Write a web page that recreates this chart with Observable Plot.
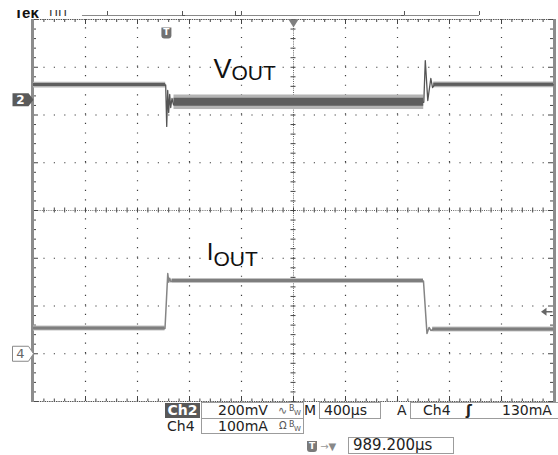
<!DOCTYPE html>
<html><head><meta charset="utf-8">
<script src="https://cdn.jsdelivr.net/npm/d3@7"></script>
<script src="https://cdn.jsdelivr.net/npm/@observablehq/plot@0.6"></script>
<style>
html,body{margin:0;padding:0;background:#fff;}
#wrap{position:relative;width:558px;height:455px;overflow:hidden;font-family:"DejaVu Sans",sans-serif;color:#222;}
#wrap svg{position:absolute;left:0;top:0;}
.a{position:absolute;white-space:nowrap;font-size:14px;}
.box{position:absolute;border:1px solid #9c9c9c;box-sizing:border-box;}
</style></head><body><div id="wrap"></div>
<script>
// ---------------- scope settings ----------------
const timePerDiv = 400;          // µs / div  ("M 400µs")
const triggerDelay = 989.2;      // µs from trigger to screen centre
const ch2Scale = 200;            // mV / div
const ch4Scale = 100;            // mA / div
const ch2Ref = 2.32;             // Ch2 ground marker (div from centre)
const ch4Ref = -3.0;             // Ch4 ground marker (div from centre)
const triggerMarkMa = 88;        // trigger-level arrow on the right (mA)

// ---------------- VOUT (Ch2, mV, AC coupled) ----------------
const voutTime = [-1010.8, 6, 14, 21.5, 29, 37, 44.6, 54.6, 66, 81.5, 1991.5, 2003, 2022, 2045.4, 2058.5, 2074, 2989.2];
const voutMv   = [61.6, 61.6, -112, 38.6, -53.5, 21.9, -32.6, 5.1, -20, -9.5, -10.5, 164, -3.3, 88.9, 51.2, 62.5, 62.5];
// noise-band envelopes of the flat parts
const voutBandStart  = [-1010.8, 70, 2068];
const voutBandEnd    = [6, 1991, 2989.2];
const voutBandLevel  = [61.6, -10.5, 62.5];
const voutBandCore   = [6, 17, 6];
const voutBandSpread = [12, 30, 12];

// ---------------- IOUT (Ch4, mA) ----------------
const ioutTime = [-1010.8, 0.8, 22, 30, 37, 46, 60, 1989, 2016, 2032, 2047, 2066, 2989.2];
const ioutMa   = [52.9, 52.9, 168, 150, 158, 151, 152.3, 152.3, 42.4, 55, 48.7, 50.8, 50.8];
const ioutBandStart  = [-1010.8, 55, 2060];
const ioutBandEnd    = [0.8, 1989, 2989.2];
const ioutBandLevel  = [52.9, 152.3, 50.8];
const ioutBandCore   = [3, 3, 3];
const ioutBandSpread = [5.2, 5.2, 5.2];

// ---------------- status-bar text ----------------
const ch2Name = "Ch2", ch4Name = "Ch4";
const ch2Setting = "200mV", ch4Setting = "100mA";
const timebaseText = "400µs";
const trigSource = "Ch4", trigLevelText = "130mA";
const delayText = "989.200µs";

// ---------------- derived layout helpers ----------------
const tLeft = triggerDelay - 5 * timePerDiv;
const tRight = triggerDelay + 5 * timePerDiv;
const tCenter = triggerDelay;
const usPx = (10 * timePerDiv) / 520;   // µs per pixel
const dvPx = 8 / 382;                    // div per pixel
const vY = v => ch2Ref + v / ch2Scale;
const iY = v => ch4Ref + v / ch4Scale;

const voutPts = voutTime.map((t, i) => ({t, y: vY(voutMv[i])}));
const ioutPts = ioutTime.map((t, i) => ({t, y: iY(ioutMa[i])}));
function bands(start, end, level, core, spread, conv) {
  const out = [];
  start.forEach((s, i) => {
    for (const t of [s, end[i]]) out.push({id: i, t,
      cLo: conv(level[i] - core[i]), cHi: conv(level[i] + core[i]),
      fLo: conv(level[i] - spread[i]), fHi: conv(level[i] + spread[i])});
  });
  return out;
}
const vBand = bands(voutBandStart, voutBandEnd, voutBandLevel, voutBandCore, voutBandSpread, vY);
const iBand = bands(ioutBandStart, ioutBandEnd, ioutBandLevel, ioutBandCore, ioutBandSpread, iY);

const minorX = d3.range(0, 51).map(j => tLeft + j * timePerDiv / 5);
const minorY = d3.range(0, 41).map(i => -4 + i * 0.2);
const majorX = d3.range(1, 10).filter(k => k !== 5).map(k => tLeft + k * timePerDiv);
const majorY = [-3, -2, -1, 1, 2, 3];
const isMajX = (t, j) => j % 5 === 0;

// header (record view) marks, in µs
const headerLine = [{x1: -634, x2: 2420}];
const headerTicks = [-441.5, 135.4, 543, 589, 1843, 2420];
const headerFeet = [{x1: 135.4, x2: 135.4 + 3 * usPx}, {x1: 543, x2: 589}, {x1: 1843 - 3 * usPx, x2: 1843}];
const hY = 4 + 4 * dvPx;

// label annotations
const labels = [
  {text: "V", t: 373.8, y: 2.785, size: 27},
  {text: "OUT", t: 512, y: 2.723, size: 21},
  {text: "I", t: 322, y: -1.047, size: 24},
  {text: "OUT", t: 373.8, y: -1.152, size: 21}
];

// custom symbols
const flag = h => ({draw(c) { c.moveTo(-21, -h); c.lineTo(-5, -h); c.lineTo(0, 0); c.lineTo(-5, h); c.lineTo(-21, h); c.closePath(); }});
const shield = {draw(c) { c.moveTo(-5, -5.5); c.lineTo(5, -5.5); c.lineTo(5, 2.5); c.quadraticCurveTo(5, 5.5, 2, 5.5); c.lineTo(-2, 5.5); c.quadraticCurveTo(-5, 5.5, -5, 2.5); c.closePath(); }};
const downTri = {draw(c) { c.moveTo(-5, 0); c.lineTo(5, 0); c.lineTo(0, 8); c.closePath(); }};
const trigArrow = {draw(c) { c.moveTo(-11.5, 0); c.lineTo(-6, -4); c.lineTo(-6, -0.8); c.lineTo(0, -0.8); c.lineTo(0, 0.8); c.lineTo(-6, 0.8); c.lineTo(-6, 4); c.closePath(); }};

const chart = Plot.plot({
  width: 558, height: 404,
  marginTop: 19, marginBottom: 3, marginLeft: 33, marginRight: 5,
  x: {domain: [tLeft, tRight], axis: null},
  y: {domain: [-4, 4], axis: null},
  style: {background: "transparent", overflow: "visible"},
  marks: [
    // graticule
    Plot.ruleY(majorY, {x1: tLeft, x2: tRight, stroke: "#3c3c3c", strokeWidth: 1.2, strokeDasharray: "1.2,9.2"}),
    Plot.ruleX(majorX, {y1: -4, y2: 4, stroke: "#3c3c3c", strokeWidth: 1.2, strokeDasharray: "1.2,8.35"}),
    Plot.ruleX([tCenter], {y1: -4, y2: 4, stroke: "#666", strokeDasharray: "1,1.2"}),
    Plot.ruleY([0], {x1: tLeft, x2: tRight, stroke: "#666", strokeDasharray: "1,1.2"}),
    Plot.ruleY(minorY, {x1: tCenter - 2.5 * usPx, x2: tCenter + 2.5 * usPx, stroke: "#444"}),
    Plot.ruleX(minorX, {y1: -2.5 * dvPx, y2: 2.5 * dvPx, stroke: "#444"}),
    Plot.ruleY(minorY, {x1: tLeft, x2: (d, i) => tLeft + (i % 5 === 0 ? 5 : 3) * usPx, stroke: "#444"}),
    Plot.ruleY(minorY, {x1: (d, i) => tRight - (i % 5 === 0 ? 5 : 3) * usPx, x2: tRight, stroke: "#444"}),
    Plot.ruleX(minorX, {y1: (d, i) => 4 - (isMajX(d, i) ? 5 : 3) * dvPx, y2: 4, stroke: "#444"}),
    Plot.ruleX(minorX, {y1: -4, y2: (d, i) => -4 + (isMajX(d, i) ? 5 : 2.5) * dvPx, stroke: "#444"}),
    Plot.ruleY([-4, 4], {x1: tLeft, x2: tRight, stroke: "#555", strokeDasharray: "1.5,0.8"}),
    Plot.ruleX([tLeft], {y1: -4.02, y2: 4, stroke: "#8c8c8c", strokeWidth: 3, dx: -1}),
    Plot.ruleX([tRight], {y1: -4.02, y2: 4, stroke: "#8c8c8c", strokeWidth: 3, dx: 1}),
    // header record-view marks
    Plot.ruleY(headerLine, {y: hY, x1: "x1", x2: "x2", stroke: "#888"}),
    Plot.ruleX(headerTicks, {y1: hY, y2: hY + 4 * dvPx, stroke: "#555"}),
    Plot.ruleY(headerFeet, {y: hY, x1: "x1", x2: "x2", stroke: "#555"}),
    // IOUT
    Plot.areaY(iBand, {x: "t", y1: "fLo", y2: "fHi", z: "id", fill: "#c2c2c2"}),
    Plot.line(ioutPts, {x: "t", y: "y", stroke: "#858585", strokeWidth: 1.5}),
    Plot.areaY(iBand, {x: "t", y1: "cLo", y2: "cHi", z: "id", fill: "#7e7e7e"}),
    // VOUT
    Plot.areaY(vBand, {x: "t", y1: "fLo", y2: "fHi", z: "id", fill: "#b4b4b4"}),
    Plot.line(voutPts, {x: "t", y: "y", stroke: "#555", strokeWidth: 1.3}),
    Plot.areaY(vBand, {x: "t", y1: "cLo", y2: "cHi", z: "id", fill: "#5e5e5e"}),
    // labels
    Plot.text(labels, {x: "t", y: "y", text: "text", fontSize: d => d.size, textAnchor: "start", lineAnchor: "bottom", fontFamily: "Liberation Sans", fill: "#111"}),
    // channel ground markers
    Plot.dot([{t: tLeft, y: ch2Ref}], {x: "t", y: "y", symbol: flag(6.5), fill: "#5a5a5a", stroke: null}),
    Plot.text([{t: tLeft, y: ch2Ref}], {x: "t", y: "y", text: () => "2", dx: -13, fill: "#fff", fontWeight: "bold", fontSize: 12, fontFamily: "DejaVu Sans"}),
    Plot.dot([{t: tLeft, y: ch4Ref}], {x: "t", y: "y", symbol: flag(7.5), fill: "#fff", stroke: "#888", strokeWidth: 1}),
    Plot.text([{t: tLeft, y: ch4Ref}], {x: "t", y: "y", text: () => "4", dx: -13, fill: "#666", fontSize: 13, fontFamily: "DejaVu Sans"}),
    // trigger position, centre marker, trigger level
    Plot.dot([0], {x: d => d, y: 4, dx: 1.5, dy: 13.5, symbol: shield, fill: "#717171", stroke: null}),
    Plot.text([0], {x: d => d, y: 4, dx: 1.5, dy: 13, text: () => "T", fill: "#fff", fontWeight: "bold", fontSize: 9, fontFamily: "DejaVu Sans"}),
    Plot.dot([tCenter], {x: d => d, y: 4, symbol: downTri, fill: "#808080", stroke: null}),
    Plot.dot([iY(triggerMarkMa)], {x: tRight, y: d => d, dx: -1, symbol: trigArrow, fill: "#666", stroke: null})
  ]
});

const wrap = document.getElementById("wrap");
wrap.appendChild(chart);

// header "Tek" fragment (top of it is cut off in the screen grab)
const hdr = document.createElement("div");
hdr.style.cssText = "position:absolute;left:14px;top:10px;width:72px;height:8px;overflow:hidden;";
hdr.innerHTML = '<span style="position:absolute;left:0;top:-5.5px;font:bold 15px/15px \'Liberation Sans\';color:#111">Tek</span>' +
  '<span style="position:absolute;left:35px;top:-5.5px;font:12px/15px \'DejaVu Sans\';color:#333">ΠΠ ⊥⊥</span>';
wrap.appendChild(hdr);

function put(html, css, cls = "a") {
  const d = document.createElement("div");
  d.className = cls; d.style.cssText = css; d.innerHTML = html; wrap.appendChild(d);
}
const bw = `<span style="position:absolute;left:0;top:0;font-size:8px;line-height:8px;color:#555">B</span><span style="position:absolute;left:5px;top:5px;font-size:7px;line-height:7px;color:#555">W</span>`;
// row 1
put("", "left:201px;top:402px;width:103px;height:17px;", "box");
put(ch2Name, "left:165px;top:403px;width:35px;height:15px;line-height:15px;background:#585858;color:#fff;text-align:center;font-weight:bold;");
put(ch2Setting, "left:218px;top:402px;line-height:17px;");
put("∿", "left:278px;top:402px;line-height:17px;font-size:11px;color:#666;");
put(bw, "left:289px;top:405px;");
put("M", "left:304px;top:402px;line-height:17px;");
put("", "left:319px;top:402px;width:62px;height:17px;", "box");
put(timebaseText, "left:324px;top:402px;line-height:17px;");
put("A", "left:397px;top:402px;line-height:17px;");
put("", "left:410px;top:402px;width:160px;height:17px;", "box");
put(trigSource, "left:423px;top:402px;line-height:17px;");
put("ʃ", "left:466px;top:402px;line-height:17px;font-weight:bold;");
put(trigLevelText, "left:502px;top:402px;line-height:17px;");
// row 2
put("", "left:201px;top:418px;width:103px;height:16px;", "box");
put(ch4Name, "left:167px;top:418px;line-height:16px;");
put(ch4Setting, "left:218px;top:418px;line-height:16px;");
put("Ω", "left:279px;top:418px;line-height:16px;font-size:10px;color:#555;");
put(bw, "left:289px;top:421px;");
// row 3
put('<span style="display:inline-block;width:10px;height:11px;background:#7a7a7a;border-radius:0 0 3px 3px;color:#fff;font:bold 9px/11px \'DejaVu Sans\';text-align:center;vertical-align:middle">T</span><span style="color:#999;font-size:10px;vertical-align:middle"> →</span><span style="color:#888;font-size:10px;vertical-align:middle">▼</span>', "left:307px;top:438px;line-height:15px;");
put("", "left:348px;top:437px;width:106px;height:17px;", "box");
put(delayText, "left:353px;top:437px;line-height:17px;font-size:15px;");
</script></body></html>
